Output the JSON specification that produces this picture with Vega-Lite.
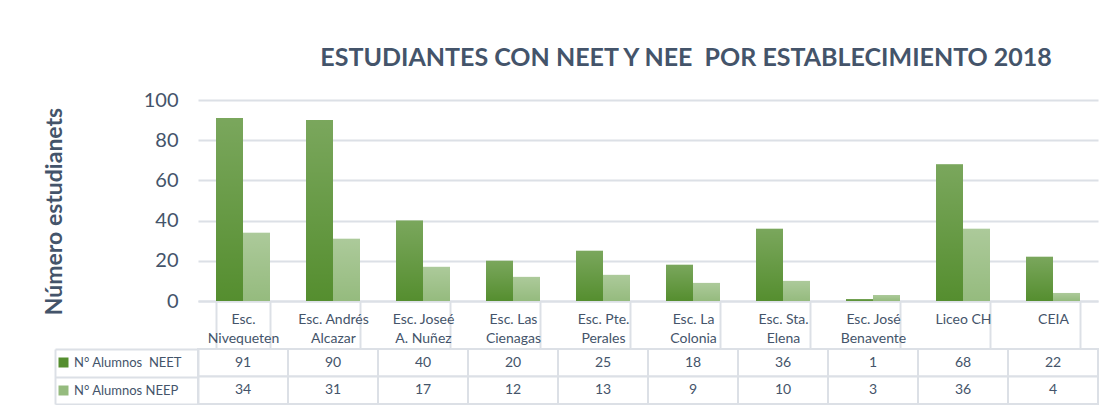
{
  "$schema": "https://vega.github.io/schema/vega-lite/v6.json",
  "background": "white",
  "padding": {"left": 43, "top": 46, "right": 5, "bottom": 0},
  "config": {"view": {"stroke": null}, "font": "Lato"},
  "title": {"text": "ESTUDIANTES CON NEET Y NEE\u00a0 POR ESTABLECIMIENTO 2018", "fontSize": 25, "font": "Lato", "fontWeight": "bold", "color": "#44546A", "anchor": "middle", "dx": 115, "offset": 19},
  "datasets": {
    "d": [
      {"escuela": "Esc.\nNivequeten", "serie": "N° Alumnos\u00a0 NEET", "valor": 91},
      {"escuela": "Esc.\nNivequeten", "serie": "N° Alumnos NEEP", "valor": 34},
      {"escuela": "Esc. Andrés\nAlcazar", "serie": "N° Alumnos\u00a0 NEET", "valor": 90},
      {"escuela": "Esc. Andrés\nAlcazar", "serie": "N° Alumnos NEEP", "valor": 31},
      {"escuela": "Esc. Joseé\nA. Nuñez", "serie": "N° Alumnos\u00a0 NEET", "valor": 40},
      {"escuela": "Esc. Joseé\nA. Nuñez", "serie": "N° Alumnos NEEP", "valor": 17},
      {"escuela": "Esc. Las\nCienagas", "serie": "N° Alumnos\u00a0 NEET", "valor": 20},
      {"escuela": "Esc. Las\nCienagas", "serie": "N° Alumnos NEEP", "valor": 12},
      {"escuela": "Esc. Pte.\nPerales", "serie": "N° Alumnos\u00a0 NEET", "valor": 25},
      {"escuela": "Esc. Pte.\nPerales", "serie": "N° Alumnos NEEP", "valor": 13},
      {"escuela": "Esc. La\nColonia", "serie": "N° Alumnos\u00a0 NEET", "valor": 18},
      {"escuela": "Esc. La\nColonia", "serie": "N° Alumnos NEEP", "valor": 9},
      {"escuela": "Esc. Sta.\nElena", "serie": "N° Alumnos\u00a0 NEET", "valor": 36},
      {"escuela": "Esc. Sta.\nElena", "serie": "N° Alumnos NEEP", "valor": 10},
      {"escuela": "Esc. José\nBenavente", "serie": "N° Alumnos\u00a0 NEET", "valor": 1},
      {"escuela": "Esc. José\nBenavente", "serie": "N° Alumnos NEEP", "valor": 3},
      {"escuela": "Liceo CH", "serie": "N° Alumnos\u00a0 NEET", "valor": 68},
      {"escuela": "Liceo CH", "serie": "N° Alumnos NEEP", "valor": 36},
      {"escuela": "CEIA", "serie": "N° Alumnos\u00a0 NEET", "valor": 22},
      {"escuela": "CEIA", "serie": "N° Alumnos NEEP", "valor": 4}
    ]
  },
  "resolve": {"scale": {"x": "independent", "y": "independent", "color": "independent"}, "legend": {"color": "independent"}},
  "bounds": "flush",
  "spacing": 48,
  "vconcat": [
    {
      "width": 900,
      "height": 201,
      "data": {"name": "d"},
      "encoding": {
        "x": {"field": "escuela", "type": "nominal", "sort": null,
          "scale": {"paddingInner": 0.4, "paddingOuter": 0.2},
          "axis": {"title": null, "labelExpr": "split(datum.label, '\\n')", "labelFontSize": 14, "labelColor": "#44546A", "labelAngle": 0, "labelBaseline": "middle",
            "labelLineHeight": 19, "tickBand": "extent", "tickSize": 47, "tickColor": "#DCE0E6", "tickWidth": 2, "domainColor": "#DCE0E6", "domainWidth": 2, "labelPadding": -29}},
        "xOffset": {"field": "serie", "type": "nominal", "sort": ["N° Alumnos\u00a0 NEET", "N° Alumnos NEEP"], "scale": {"paddingInner": 0, "paddingOuter": 0}},
        "y": {"field": "valor", "type": "quantitative", "scale": {"domain": [0, 100]},
          "axis": {"title": "Número estudianets", "titleFontSize": 23, "titleFontWeight": "bold", "titleColor": "#44546A", "titlePadding": 77, "titleY": 111, "labelFontSize": 20, "labelColor": "#44546A", "labelPadding": 20, "ticks": false, "domain": false, "values": [0, 20, 40, 60, 80, 100], "gridColor": "#DCE0E6", "gridWidth": 2}}
      },
      "layer": [
        {
          "mark": {"type": "bar"},
          "encoding": {
            "color": {"field": "serie", "type": "nominal", "sort": ["N° Alumnos\u00a0 NEET", "N° Alumnos NEEP"],
              "scale": {"range": ["#558E2F", "#95BB7E"]},
              "legend": {"orient": "none", "legendX": -141, "legendY": 256, "title": null, "symbolType": "square", "symbolSize": 100, "symbolStrokeWidth": 0, "labelFontSize": 13, "labelColor": "#44546A", "rowPadding": 14, "labelOffset": 4, "labelLimit": 200}}
          }
        },
        {
          "mark": {"type": "bar", "color": {"gradient": "linear", "x1": 0, "y1": 0, "x2": 0, "y2": 1, "stops": [{"offset": 0, "color": "rgba(255,255,255,0.22)"}, {"offset": 1, "color": "rgba(255,255,255,0)"}]}}
        }
      ]
    },
    {
      "width": 900,
      "height": 55,
      "data": {"name": "d"},
      "resolve": {"axis": {"y": "independent"}},
      "layer": [
        {
          "mark": {"type": "rect", "fill": "white", "stroke": "#DCE0E6", "strokeWidth": 2},
          "encoding": {
            "x": {"field": "escuela", "type": "nominal", "sort": null, "axis": null, "scale": {"paddingInner": 0, "paddingOuter": 0}},
            "y": {"field": "serie", "type": "nominal", "sort": ["N° Alumnos\u00a0 NEET", "N° Alumnos NEEP"], "scale": {"paddingInner": 0, "paddingOuter": 0},
              "axis": {"title": null, "labels": false, "minExtent": 0, "tickBand": "extent", "tickSize": 143, "tickColor": "#DCE0E6", "tickWidth": 2, "domainColor": "#DCE0E6", "domainWidth": 2, "grid": false}}
          }
        },
        {
          "mark": {"type": "text", "fontSize": 14, "color": "#44546A"},
          "encoding": {
            "x": {"field": "escuela", "type": "nominal", "sort": null, "axis": null},
            "y": {"field": "serie", "type": "nominal", "sort": ["N° Alumnos\u00a0 NEET", "N° Alumnos NEEP"],
              "axis": {"title": null, "orient": "left", "offset": 143, "minExtent": 0, "labels": false, "ticks": false, "domainColor": "#DCE0E6", "domainWidth": 2, "grid": false}},
            "text": {"field": "valor", "type": "quantitative"}
          }
        }
      ]
    }
  ]
}
